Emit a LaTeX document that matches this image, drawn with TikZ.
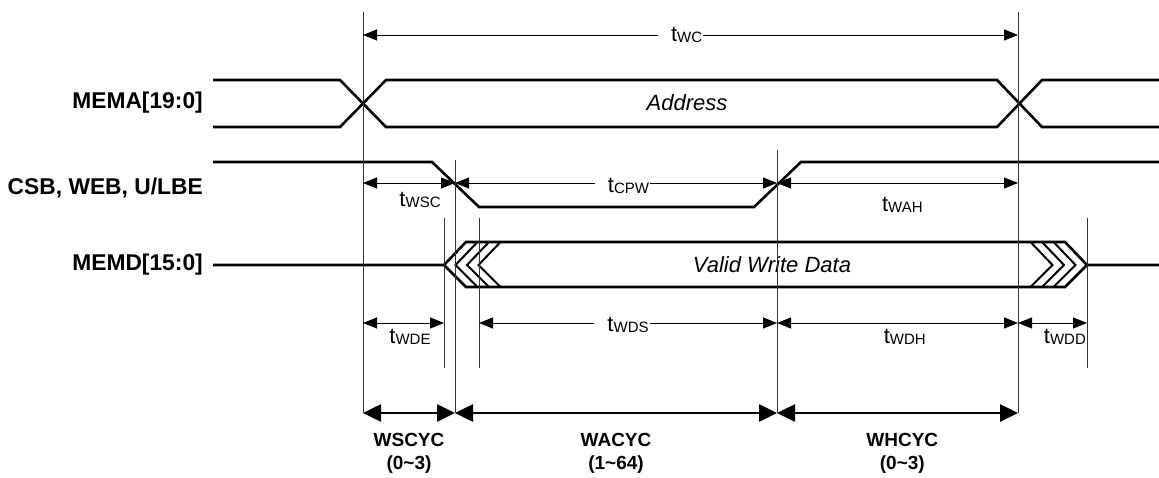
\documentclass[tikz,border=0pt]{standalone}
\usepackage{fontspec}
\setmainfont{Liberation Sans}
\usepackage{tikz}
\usetikzlibrary{arrows.meta,positioning}

\newcommand{\tsub}[1]{t\raisebox{-1.5pt}{\fontsize{15}{15}\selectfont #1}}

\tikzset{
	bus/.style={line width=2.6pt, line join=miter},
	chev/.style={line width=2pt},
	tick/.style={line width=0.9pt, black!80},
	dim/.style={line width=0.8pt, {Triangle[length=14pt,width=11pt]}-{Triangle[length=14pt,width=11pt]}},
	cyc/.style={line width=2.6pt, {Triangle[length=18pt,width=17pt]}-{Triangle[length=18pt,width=17pt]}},
	sig/.style={anchor=east, inner sep=0pt, font=\bfseries\fontsize{22.8}{23}\selectfont},
	tin/.style={fill=white, inner ysep=2pt, inner xsep=1pt, font=\fontsize{22}{22}\selectfont},
	tout/.style={inner sep=1pt, font=\fontsize{22}{22}\selectfont},
	cyclab/.style={align=center, inner sep=0pt, font=\bfseries\fontsize{19}{23}\selectfont},
	val/.style={font=\itshape\fontsize{22}{22}\selectfont},
}

\begin{document}
\begin{tikzpicture}[x=1pt, y=-1pt]
	\useasboundingbox (0,0) rectangle (1159,478);

	% Edges {xs, xde, xcs, xds, xcr, xe, xdd}
	\coordinate (xs)  at (363,12);
	\coordinate (xde) at (444,218);
	\coordinate (xcs) at (455,160);
	\coordinate (xds) at (479,218);
	\coordinate (xcr) at (777,150);
	\coordinate (xe)  at (1018,12);
	\coordinate (xdd) at (1087,218);

	% Rows
	\coordinate (rwc)  at (0,35);
	\coordinate (rcs)  at (0,183);
	\coordinate (rwd)  at (0,323);
	\coordinate (rlow) at (0,368);
	\coordinate (rcyc) at (0,413);

	% Signal names
	\node [sig] (mema) at (203,103) {MEMA[19:0]};
	\node [sig] (csb)  at (203,188) {CSB, WEB, U/LBE};
	\node [sig] (memd) at (203,265) {MEMD[15:0]};

	% Waveforms
	\draw [bus] (213,80) -- (340,80) -- (386,127) -- (997,127) -- (1042,80) -- (1159,80);
	\draw [bus] (213,127) -- (340,127) -- (386,80) -- (997,80) -- (1042,127) -- (1159,127);
	\node [val] (addr) at (687,103) {Address};

	\draw [bus] (213,162) -- (432,162) -- (479,207) -- (754,207) -- (801,162) -- (1159,162);

	\draw [bus] (213,265) -- (444,265) -- (466,242) -- (1065,242) -- (1087,265) -- (1159,265);
	\draw [bus] (444,265) -- (466,287) -- (1065,287) -- (1087,265);
	\foreach \i in {1,2,3} {
		\draw [chev] (466+11.5*\i,242) -- (444+11.5*\i,265) -- (466+11.5*\i,287);
		\draw [chev] (1065-11.5*\i,242) -- (1087-11.5*\i,265) -- (1065-11.5*\i,287);
	}
	\node [val] (data) at (772,265) {Valid Write Data};

	% Edge lines
	\draw [tick] (xs)  -- (xs |- rcyc);
	\draw [tick] (xe)  -- (xe |- rcyc);
	\draw [tick] (xcs) -- (xcs |- rcyc);
	\draw [tick] (xcr) -- (xcr |- rcyc);
	\draw [tick] (xde) -- (xde |- rlow);
	\draw [tick] (xds) -- (xds |- rlow);
	\draw [tick] (xdd) -- (xdd |- rlow);

	% Timings
	\draw [dim] (xs |- rwc) -- node [tin, pos=.485] (twc) {\hspace{12pt}\tsub{WC}} (xe |- rwc);

	\draw [dim] (xs |- rcs)  -- node [tout, pos=.62, yshift=-17pt] (twsc) {\tsub{WSC}} (xcs |- rcs);
	\draw [dim] (xcs |- rcs) -- node [tin, pos=.52, yshift=-3pt] (tcpw) {\hspace{12pt}\tsub{CPW}} (xcr |- rcs);
	\draw [dim] (xcr |- rcs) -- node [tout, pos=.52, yshift=-22pt] (twah) {\tsub{WAH}} (xe |- rcs);

	\draw [dim] (xs |- rwd)  -- node [tout, pos=.58, yshift=-14pt] (twde) {\tsub{WDE}} (xde |- rwd);
	\draw [dim] (xds |- rwd) -- node [tin, pos=.48, yshift=-2pt] (twds) {\hspace{12pt}\tsub{WDS}} (xcr |- rwd);
	\draw [dim] (xcr |- rwd) -- node [tout, pos=.53, yshift=-14pt] (twdh) {\tsub{WDH}} (xe |- rwd);
	\draw [dim] (xe |- rwd)  -- node [tout, pos=.68, yshift=-14pt] (twdd) {\tsub{WDD}} (xdd |- rwd);

	% Cycles
	\draw [cyc] (xs |- rcyc)  -- node [cyclab, yshift=-40pt] (wscyc) {WSCYC\\(0\textasciitilde 3)} (xcs |- rcyc);
	\draw [cyc] (xcs |- rcyc) -- node [cyclab, yshift=-40pt] (wacyc) {WACYC\\(1\textasciitilde 64)} (xcr |- rcyc);
	\draw [cyc] (xcr |- rcyc) -- node [cyclab, pos=.52, yshift=-40pt] (whcyc) {WHCYC\\(0\textasciitilde 3)} (xe |- rcyc);

\end{tikzpicture}
\end{document}
